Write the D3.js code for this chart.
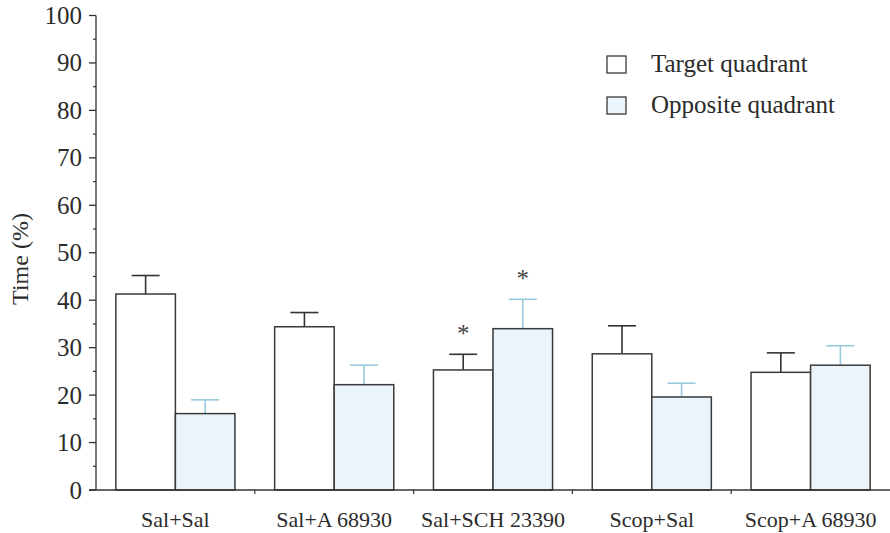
<!DOCTYPE html>
<html>
<head>
<meta charset="utf-8">
<script src="https://cdn.jsdelivr.net/npm/d3@7"></script>
<style>
  html, body { margin: 0; padding: 0; background: #ffffff; }
  svg { display: block; }
  text { font-family: "Liberation Serif", "Times New Roman", serif; fill: #2b2b2b; }
</style>
</head>
<body>
<svg id="chart" width="890" height="533"></svg>
<script>
// Time spent in each quadrant (%) per treatment group, mean + SEM
const categories = ["Sal+Sal", "Sal+A 68930", "Sal+SCH 23390", "Scop+Sal", "Scop+A 68930"];
const seriesNames = ["Target quadrant", "Opposite quadrant"];
const targetMean = [41.3, 34.4, 25.3, 28.7, 24.8];
const targetSem = [3.9, 3.0, 3.3, 5.9, 4.1];
const oppositeMean = [16.1, 22.2, 34.0, 19.6, 26.3];
const oppositeSem = [2.9, 4.1, 6.2, 2.9, 4.1];
const significant = [[false, false], [false, false], [true, true], [false, false], [false, false]];
const yTicks = [0, 10, 20, 30, 40, 50, 60, 70, 80, 90, 100];

const svg = d3.select("#chart");
const x0 = 96, x1 = 890, yBase = 490, yTop = 15.5;

const x = d3.scaleBand().domain(categories).range([x0, x1]).padding(0);
const xs = d3.scaleBand().domain(seriesNames)
  .range([x.bandwidth() * 0.125, x.bandwidth() * 0.875]).padding(0);
const y = d3.scaleLinear().domain([0, 100]).range([yBase, yTop]);

const fills = { "Target quadrant": "#ffffff", "Opposite quadrant": "#ecf4fb" };
const errColor = { "Target quadrant": "#333333", "Opposite quadrant": "#98c9dc" };

const rows = categories.map((c, i) => ({
  cat: c,
  vals: [
    { s: seriesNames[0], m: targetMean[i], e: targetSem[i], sig: significant[i][0] },
    { s: seriesNames[1], m: oppositeMean[i], e: oppositeSem[i], sig: significant[i][1] }
  ]
}));

// Error bars (drawn first so the bar outline sits on top)
const groups = svg.selectAll("g.grp").data(rows).join("g")
  .attr("class", "grp")
  .attr("transform", d => `translate(${x(d.cat)},0)`);

groups.each(function(d) {
  const g = d3.select(this);
  d.vals.forEach(v => {
    const cx = xs(v.s) + xs.bandwidth() / 2;
    g.append("line")
      .attr("x1", cx).attr("x2", cx)
      .attr("y1", y(v.m)).attr("y2", y(v.m + v.e))
      .attr("stroke", errColor[v.s]).attr("stroke-width", 1.6);
    g.append("line")
      .attr("x1", cx - 14).attr("x2", cx + 14)
      .attr("y1", y(v.m + v.e)).attr("y2", y(v.m + v.e))
      .attr("stroke", errColor[v.s]).attr("stroke-width", 1.6);
    if (v.sig) {
      g.append("text")
        .attr("x", cx).attr("y", y(v.m + v.e) - 12)
        .attr("text-anchor", "middle")
        .attr("font-size", 25)
        .style("fill", "#444")
        .text("*");
    }
  });
  g.selectAll("rect").data(d.vals).join("rect")
    .attr("x", v => xs(v.s))
    .attr("width", xs.bandwidth())
    .attr("y", v => y(v.m))
    .attr("height", v => yBase - y(v.m))
    .attr("fill", v => fills[v.s])
    .attr("stroke", "#3a3a3a")
    .attr("stroke-width", 1.5);
});

// Y axis with major and minor ticks
const yAxisG = svg.append("g").attr("transform", `translate(${x0},0)`);
yAxisG.append("line")
  .attr("x1", 0).attr("x2", 0).attr("y1", y(100)).attr("y2", yBase)
  .attr("stroke", "#333").attr("stroke-width", 1.3);
const minor = d3.range(5, 100, 10);
yAxisG.selectAll("line.minor").data(minor).join("line")
  .attr("class", "minor")
  .attr("x1", -3).attr("x2", 0)
  .attr("y1", d => y(d)).attr("y2", d => y(d))
  .attr("stroke", "#333").attr("stroke-width", 1.2);
yAxisG.selectAll("line.major").data(yTicks).join("line")
  .attr("class", "major")
  .attr("x1", -7).attr("x2", 0)
  .attr("y1", d => y(d)).attr("y2", d => y(d))
  .attr("stroke", "#333").attr("stroke-width", 1.3);
yAxisG.selectAll("text.tl").data(yTicks).join("text")
  .attr("class", "tl")
  .attr("x", -14)
  .attr("y", d => y(d))
  .attr("dy", "0.34em")
  .attr("text-anchor", "end")
  .attr("font-size", 25)
  .text(d => d);

// X axis line with ticks at group boundaries
svg.append("line")
  .attr("x1", x0 - 7).attr("x2", x1).attr("y1", yBase).attr("y2", yBase)
  .attr("stroke", "#333").attr("stroke-width", 1.3);
svg.selectAll("line.xt").data(categories.slice(1)).join("line")
  .attr("class", "xt")
  .attr("x1", d => x(d)).attr("x2", d => x(d))
  .attr("y1", yBase).attr("y2", yBase + 4)
  .attr("stroke", "#333").attr("stroke-width", 1.2);
svg.selectAll("text.xl").data(categories).join("text")
  .attr("class", "xl")
  .attr("x", d => x(d) + x.bandwidth() / 2)
  .attr("y", 527)
  .attr("text-anchor", "middle")
  .attr("font-size", 22)
  .text(d => d);

// Y axis title
svg.append("text")
  .attr("transform", "translate(28,259) rotate(-90)")
  .attr("text-anchor", "middle")
  .attr("font-size", 24)
  .text("Time (%)");

// Legend
const legend = svg.append("g").attr("transform", "translate(607,56)");
seriesNames.forEach((s, i) => {
  const gy = i * 41;
  legend.append("rect")
    .attr("x", 0).attr("y", gy)
    .attr("width", 19).attr("height", 17)
    .attr("fill", fills[s])
    .attr("stroke", "#3a3a3a").attr("stroke-width", 1.3);
  legend.append("text")
    .attr("x", 44).attr("y", gy + 16)
    .attr("font-size", 25)
    .text(s);
});
</script>
</body>
</html>
